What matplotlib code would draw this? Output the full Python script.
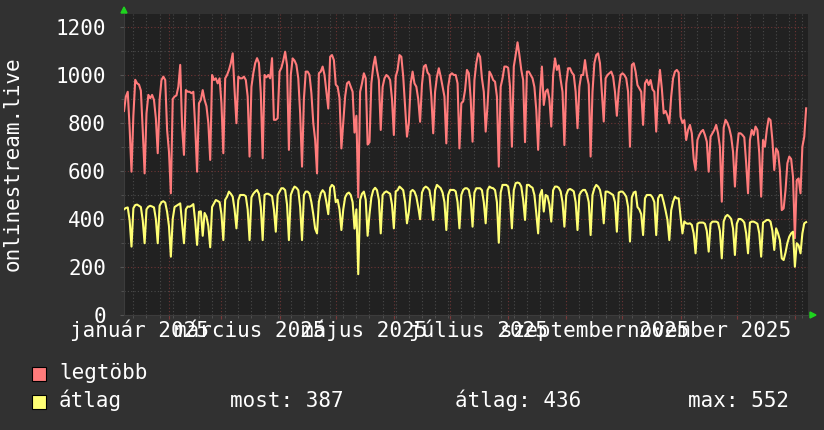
import datetime as dt
import matplotlib
matplotlib.use('Agg')
import matplotlib.pyplot as plt
import matplotlib.dates as mdates
from matplotlib.ticker import NullFormatter
from matplotlib.patches import Rectangle, Polygon

# daily values, 2025-01-08 .. 2026-01-07 (rows are Mon..Sun weeks)
start = dt.date(2025, 1, 8)

legtobb = [
    850, 910, 930, 780, 597,
    830, 980, 965, 960, 935, 770, 590,
    840, 917, 903, 917, 896, 819, 674,
    896, 979, 993, 979, 771, 680, 507,
    900, 910, 915, 951, 1042, 785, 667,
    937, 930, 930, 924, 930, 785, 597,
    882, 896, 937, 896, 870, 800, 646,
    1000, 979, 986, 965, 986, 882, 674,
    986, 1000, 1021, 1049, 1090, 937, 799,
    993, 986, 986, 993, 979, 910, 660,
    951, 1007, 1049, 1070, 1050, 924, 653,
    1000, 990, 1000, 986, 1070, 813, 813,
    820, 1014, 1030, 1060, 1097, 1040, 688,
    1000, 1069, 1060, 1042, 986, 840, 618,
    900, 1014, 1014, 1000, 924, 800, 730,
    590, 1007, 1014, 1035, 1000, 930, 860,
    1076, 1083, 1062, 960, 951, 903, 694,
    800, 910, 965, 972, 951, 930, 760,
    830, 490, 930, 965, 1007, 986, 710,
    720, 965, 1035, 1076, 1021, 979, 771,
    950, 986, 1000, 993, 979, 900, 750,
    993, 1021, 1083, 1076, 993, 868, 743,
    800, 965, 1014, 965, 951, 900, 805,
    960, 1035, 1042, 1010, 1000, 910, 757,
    930, 993, 1028, 993, 951, 910, 715,
    951, 1000, 1007, 1000, 1000, 965, 694,
    882, 890, 937, 1021, 1007, 900, 722,
    979, 1049, 1090, 1076, 986, 930, 764,
    875, 1014, 1000, 979, 972, 910, 618,
    951, 986, 1035, 1035, 1030, 951, 701,
    1035, 1083, 1136, 1083, 1021, 979, 720,
    1014, 1014, 1000, 986, 950, 854, 688,
    920, 1035, 875, 930, 940, 900, 785,
    1000, 1069, 1021, 1040, 980, 930, 708,
    965, 1028, 1028, 1010, 1000, 930, 778,
    951, 1000, 1000, 1062, 1000, 960, 660,
    930, 1049, 1083, 1090, 1049, 930, 806,
    986, 1000, 1007, 1014, 993, 930, 830,
    940, 1000, 1007, 1000, 986, 930, 701,
    1042, 1049, 1014, 958, 944, 930, 792,
    965, 980, 958, 979, 940, 930, 764,
    940, 1021, 944, 840, 850, 830, 799,
    910, 986, 1014, 1021, 1010, 826, 800,
    812, 729, 771, 792, 757, 650, 604,
    729, 750, 764, 771, 750, 722, 597,
    743, 757, 771, 792, 757, 700, 472,
    780, 813, 800, 778, 743, 680, 535,
    680, 757, 757, 750, 740, 632, 507,
    729, 771, 750, 785, 771, 674, 493,
    729, 701, 771, 819, 812, 729, 604,
    694, 680, 604, 437, 444, 520, 632,
    660, 650, 576, 320, 562, 569, 507,
    701, 743, 861,
]

atlag = [
    440, 446, 448, 395, 285,
    445, 458, 460, 455, 450, 395, 299,
    440, 451, 455, 452, 448, 400, 299,
    455, 470, 474, 468, 430, 370, 243,
    400, 450, 455, 460, 465, 382, 299,
    440, 452, 451, 455, 462, 390, 292,
    430, 432, 330, 425, 410, 370, 282,
    450, 465, 479, 475, 470, 420, 312,
    480, 493, 514, 505, 493, 440, 361,
    479, 500, 500, 500, 495, 440, 312,
    490, 505, 514, 521, 505, 450, 312,
    500, 505, 505, 500, 495, 440, 347,
    500, 514, 528, 528, 520, 460, 312,
    500, 521, 535, 530, 520, 450, 312,
    500, 514, 514, 505, 470, 420, 360,
    340, 472, 507, 520, 510, 470, 420,
    530, 542, 535, 470, 480, 440, 354,
    440, 490, 505, 510, 500, 470, 360,
    440, 170, 480, 505, 514, 480, 330,
    420, 490, 520, 530, 520, 480, 340,
    500, 510, 515, 510, 505, 460, 361,
    515, 520, 535, 528, 520, 470, 382,
    430, 514, 521, 514, 493, 450, 399,
    510, 528, 535, 530, 520, 470, 396,
    520, 542, 535, 528, 510, 470, 354,
    500, 521, 521, 521, 515, 470, 361,
    500, 521, 528, 528, 521, 480, 368,
    510, 528, 528, 528, 520, 470, 382,
    520, 535, 530, 528, 520, 470, 301,
    510, 542, 542, 542, 535, 480, 361,
    520, 549, 552, 549, 535, 480, 396,
    542, 542, 535, 530, 500, 424, 340,
    500, 521, 431, 500, 495, 460, 389,
    520, 535, 535, 530, 515, 470, 368,
    500, 521, 525, 521, 515, 470, 354,
    500, 514, 521, 521, 505, 470, 333,
    500, 528, 542, 535, 521, 480, 382,
    514, 514, 510, 505, 500, 470, 347,
    510, 514, 514, 505, 493, 450, 306,
    490, 510, 514, 450, 440, 420, 333,
    486, 500, 500, 500, 490, 470, 333,
    486, 500, 500, 470, 435, 396, 312,
    437, 472, 493, 486, 486, 410, 340,
    390, 382, 380, 382, 375, 340, 257,
    380, 385, 385, 385, 380, 350, 264,
    380, 389, 389, 389, 385, 350, 236,
    390, 410, 417, 410, 400, 360, 250,
    380, 400, 400, 395, 385, 340, 257,
    385, 389, 389, 385, 380, 340, 243,
    385, 390, 396, 396, 389, 350, 271,
    361, 340, 312, 236, 229, 260, 300,
    326, 340, 347, 201, 299, 290, 257,
    340, 382, 387,
]

series_names = ['legtöbb', 'átlag']
series_colors = ['#ff7b7b', '#ffff74']
y_ticks = [0, 200, 400, 600, 800, 1000, 1200]
label_months = [1, 3, 5, 7, 9, 11]
month_labels = ['január 2025', 'március 2025', 'május 2025',
                'július 2025', 'szeptember 2025', 'november 2025']
stat_labels = ['most: 387', 'átlag: 436', 'max: 552']
y_title = 'onlinestream.live'

W, H = 824, 430
FONT = 'DejaVu Sans Mono'
FS = 15


def px(x, y):
    return (x / W, 1 - y / H)


days = [start + dt.timedelta(days=i) for i in range(len(legtobb))]

fig = plt.figure(figsize=(W / 100, H / 100), dpi=100, facecolor='#313131')
ax = fig.add_axes([124 / W, 1 - 315 / H, (808 - 124) / W, (315 - 14) / H],
                  facecolor='#212121')

ax.plot(days, legtobb, color=series_colors[0], lw=1.5, zorder=3)
ax.plot(days, atlag, color=series_colors[1], lw=1.5, zorder=4)

ax.set_xlim(dt.date(2025, 1, 8), dt.date(2026, 1, 8))
ax.set_ylim(0, 1254)

ax.set_yticks(y_ticks)
ax.set_yticks(range(0, 1300, 100), minor=True)
ax.xaxis.set_major_locator(mdates.MonthLocator())
ax.xaxis.set_minor_locator(mdates.WeekdayLocator(byweekday=mdates.MO))
ax.xaxis.set_major_formatter(NullFormatter())

ax.grid(which='minor', color='#4a4a4a', ls=(0, (1, 2)), lw=0.8, zorder=1)
ax.grid(which='major', color='#6e3535', ls=(0, (1, 2)), lw=0.8, zorder=2)
ax.set_axisbelow(True)

for s in ['top', 'right']:
    ax.spines[s].set_visible(False)
for s in ['left', 'bottom']:
    ax.spines[s].set_color('#3c3c3c')

ax.tick_params(axis='y', which='major', length=3, color='#555555', pad=10,
               labelcolor='white', labelsize=FS)
ax.tick_params(axis='y', which='minor', length=2, color='#555555')
ax.tick_params(axis='x', which='major', length=3, color='#7a3a3a')
ax.tick_params(axis='x', which='minor', length=2, color='#555555')
for lab in ax.get_yticklabels():
    lab.set_fontfamily(FONT)

# month labels centred on their month
for m, text in zip(label_months, month_labels):
    a = dt.date(2025, m, 1)
    b = dt.date(2025, m + 1, 1)
    mid = a + (b - a) / 2
    ax.text(mid, (315 - 337) / 301, text, transform=ax.get_xaxis_transform(),
            ha='center', va='baseline', color='white', fontsize=FS,
            fontfamily=FONT, clip_on=False)

fig.text(*px(13, 164), y_title, rotation=90, ha='center', va='center',
         color='white', fontsize=FS, fontfamily=FONT)

# legend
for i, (name, col) in enumerate(zip(series_names, series_colors)):
    top = 367 + i * 27.5
    fig.patches.append(Rectangle(px(32, top + 14), 14 / W, 14 / H,
                                 transform=fig.transFigure, facecolor=col,
                                 edgecolor='black', lw=0.8))
    fig.text(*px(59, 379 + i * 28), name, ha='left', va='baseline',
             color='white', fontsize=FS, fontfamily=FONT)

for xpos, text in zip([230, 455, 688], stat_labels):
    fig.text(*px(xpos, 407), text, ha='left', va='baseline',
             color='white', fontsize=FS, fontfamily=FONT)

# green axis arrows
green = '#1ed41e'
fig.patches.append(Polygon([px(121, 13), px(127, 13), px(124, 7)], closed=True,
                           transform=fig.transFigure, color=green))
fig.patches.append(Polygon([px(810, 312), px(810, 318), px(816, 315)], closed=True,
                           transform=fig.transFigure, color=green))

fig.savefig('out.png', dpi=100, facecolor=fig.get_facecolor())
plt.close(fig)
